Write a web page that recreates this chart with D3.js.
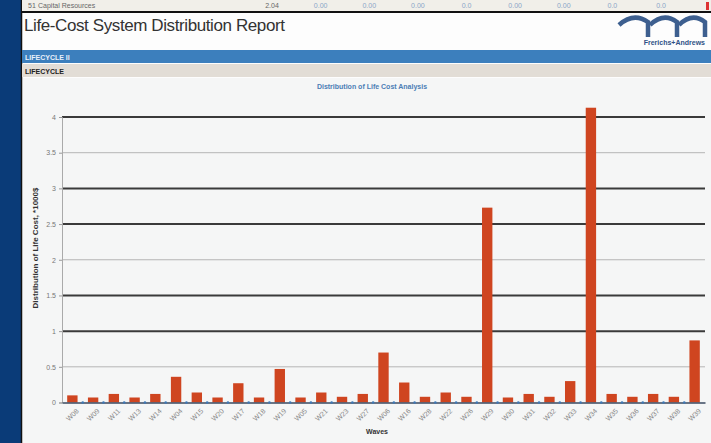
<!DOCTYPE html>
<html>
<head>
<meta charset="utf-8">
<script src="https://cdn.jsdelivr.net/npm/d3@7"></script>
<style>
  body { margin: 0; background: #fff; }
  svg { display: block; font-family: "Liberation Sans", Arial, sans-serif; }
</style>
</head>
<body>
<div id="vis-container"></div>
<script>
// chart data
var categories = ["W08","W09","W11","W13","W14","W04","W15","W20","W17","W18","W19","W05","W21","W23","W27",
                  "W06","W16","W28","W22","W26","W29","W30","W31","W32","W33","W34","W35","W36","W37","W38","W39"];
var lifeCost = [0.10, 0.07, 0.12, 0.07, 0.12, 0.36, 0.14, 0.07, 0.27, 0.07, 0.47, 0.07, 0.14, 0.08, 0.12,
                0.70, 0.28, 0.08, 0.14, 0.08, 2.73, 0.07, 0.12, 0.08, 0.30, 4.13, 0.12, 0.08, 0.12, 0.08, 0.87];
var yTicks = [0, 0.5, 1, 1.5, 2, 2.5, 3, 3.5, 4];
var rowCells = ["2.04", "0.00", "0.00", "0.00", "0.0", "0.00", "0.00", "0.0", "0.0"];

var W = 711, H = 443;
var svg = d3.select("#vis-container").append("svg")
      .attr("width", W)
      .attr("height", H);

// page frame
svg.append("rect").attr("x", 0).attr("y", 0).attr("width", W).attr("height", H).attr("fill", "#f5f6f6");
svg.append("rect").attr("x", 21).attr("y", 0).attr("width", W - 21).attr("height", 78).attr("fill", "#fdfdfd");
svg.append("rect").attr("x", 0).attr("y", 0).attr("width", 21).attr("height", H).attr("fill", "#0a3b78");
svg.append("line").attr("x1", 21.5).attr("x2", 21.5).attr("y1", 0).attr("y2", H).attr("stroke", "#111").attr("stroke-width", 1.5);

// previous table row peeking in at the top
svg.append("rect").attr("x", 22).attr("y", 0).attr("width", W - 22).attr("height", 11).attr("fill", "#f1efe9");
svg.append("text").attr("x", 28).attr("y", 8).attr("font-size", 7).attr("fill", "#666").text("51");
svg.append("text").attr("x", 38).attr("y", 8).attr("font-size", 7).attr("fill", "#666").text("Capital Resources");
var cellX = d3.scalePoint().domain(d3.range(rowCells.length)).range([272, 661]);
svg.append("g").selectAll("text")
      .data(rowCells)
      .enter()
      .append("text")
      .attr("x", (d, i) => cellX(i))
      .attr("y", 8)
      .attr("text-anchor", "middle")
      .attr("font-size", 7)
      .attr("fill", (d, i) => i == 0 ? "#666" : "#8aa6c8")
      .text(d => d);
svg.append("rect").attr("x", 706).attr("y", 2).attr("width", 3).attr("height", 8).attr("fill", "#d33");
svg.append("line").attr("x1", 22).attr("x2", W).attr("y1", 12).attr("y2", 12).attr("stroke", "#111").attr("stroke-width", 2);

// report title
svg.append("text").attr("x", 24).attr("y", 31).attr("font-size", 17).attr("fill", "#333")
      .attr("letter-spacing", -0.4).text("Life-Cost System Distribution Report");

// logo
var logo = svg.append("g").attr("fill", "none").attr("stroke", "#3d5f8f").attr("stroke-width", 4.5);
[[619, 648], [650, 677], [679, 705]].forEach(function (a) {
      logo.append("path").attr("d", "M" + a[0] + ",25 Q" + ((a[0] + a[1]) / 2) + ",12 " + a[1] + ",22 L" + a[1] + ",37");
});
svg.append("text").attr("x", 705).attr("y", 45).attr("text-anchor", "end").attr("font-size", 7)
      .attr("font-weight", "bold").attr("fill", "#2f5286").text("Frerichs+Andrews");

// section bands
svg.append("rect").attr("x", 22).attr("y", 50).attr("width", W - 22).attr("height", 13).attr("fill", "#3c7fbd");
svg.append("text").attr("x", 25).attr("y", 59.5).attr("font-size", 7).attr("font-weight", "bold").attr("fill", "#e8f0fa").text("LIFECYCLE II");
svg.append("rect").attr("x", 22).attr("y", 64).attr("width", W - 22).attr("height", 13).attr("fill", "#e2ddd6");
svg.append("text").attr("x", 25).attr("y", 73.5).attr("font-size", 7).attr("font-weight", "bold").attr("fill", "#222").text("LIFECYCLE");

// chart title
svg.append("text").attr("x", 372).attr("y", 89).attr("text-anchor", "middle").attr("font-size", 7)
      .attr("font-weight", "bold").attr("fill", "#4c7db5").text("Distribution of Life Cost Analysis");

// scales
var x = d3.scaleBand()
      .domain(categories)
      .range([62, 705])
      .paddingInner(0.5)
      .paddingOuter(0.25);

var y = d3.scaleLinear()
      .domain([0, 4])
      .range([402.5, 117]);

// gridlines
svg.append("g")
      .selectAll("line")
      .data(yTicks.slice(1))
      .enter()
      .append("line")
      .attr("x1", 62)
      .attr("x2", 705)
      .attr("y1", d => y(d))
      .attr("y2", d => y(d))
      .attr("stroke", (d, i) => i % 3 == 0 ? "#b5b5b5" : "#3a3a3a")
      .attr("stroke-width", (d, i) => i % 3 == 0 ? 1 : 2);

// Y axis
var yAxis = svg.append("g")
      .attr("transform", "translate(62,0)")
      .call(d3.axisLeft(y).tickValues(yTicks).tickSize(3).tickFormat(d3.format("")));
yAxis.select(".domain").attr("stroke", "#aaa");
yAxis.selectAll(".tick line").attr("stroke", "#999");
yAxis.selectAll("text").attr("font-size", 7).attr("fill", "#777").attr("font-family", "Liberation Sans, Arial, sans-serif");

svg.append("text")
      .attr("transform", "translate(38,248) rotate(-90)")
      .attr("text-anchor", "middle")
      .attr("font-size", 8)
      .attr("font-weight", "bold")
      .attr("fill", "#333")
      .text("Distribution of Life Cost, *1000$");

// bars
svg.append("g")
      .selectAll("rect")
      .data(lifeCost)
      .enter()
      .append("rect")
      .attr("x", (d, i) => x(categories[i]))
      .attr("y", d => y(d))
      .attr("width", x.bandwidth())
      .attr("height", d => y(0) - y(d))
      .attr("fill", "#cf4520");

// X axis
var xAxis = svg.append("g")
      .attr("transform", "translate(0," + y(0) + ")")
      .call(d3.axisBottom(x).tickSize(0).tickPadding(7));
xAxis.select(".domain").attr("stroke", "#3a4a60").attr("stroke-width", 1.5);
xAxis.selectAll(".tick text")
      .attr("font-size", 7)
      .attr("fill", "#888")
      .attr("font-family", "Liberation Sans, Arial, sans-serif")
      .attr("text-anchor", "end")
      .attr("transform", "rotate(-45)")
      .attr("dx", "-0.2em")
      .attr("dy", "0.6em");

// small separators between bars on the axis
svg.append("g")
      .selectAll("circle")
      .data(categories.slice(1))
      .enter()
      .append("circle")
      .attr("cx", d => x(d) - x.step() * x.paddingInner() / 2)
      .attr("cy", y(0))
      .attr("r", 1.3)
      .attr("fill", "#3f78b5");

svg.append("text").attr("x", 377).attr("y", 434).attr("text-anchor", "middle").attr("font-size", 7)
      .attr("font-weight", "bold").attr("fill", "#333").text("Waves");
</script>
</body>
</html>
